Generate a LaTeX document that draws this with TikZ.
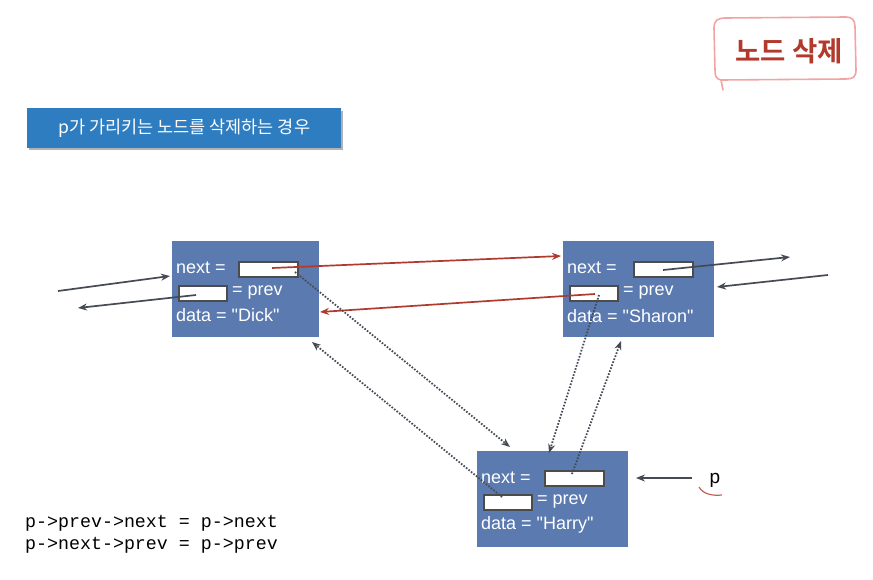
\documentclass[tikz,border=0pt]{standalone}
\usepackage{fontspec}
\setmainfont{Liberation Sans}
\newfontfamily\nodefont{Liberation Sans}[Ligatures=TeXOff]
\newfontfamily\kofont{Noto Sans CJK KR}
\newfontfamily\kofontb{Noto Sans CJK KR}[BoldFont={* Bold}]
\newfontfamily\codefont{Liberation Mono}
\usetikzlibrary{arrows.meta}
\definecolor{nodeblue}{HTML}{5B7AAF}
\definecolor{titleblue}{HTML}{2E7DC0}
\definecolor{darkred}{HTML}{B23A2C}
\definecolor{arrowred}{HTML}{B03A2E}
\definecolor{arrowgray}{HTML}{454A55}
\definecolor{bubblepink}{HTML}{F2A3A3}
\begin{document}
\begin{tikzpicture}[x=1pt,y=-1pt,
  listnode/.style={draw=none,fill=nodeblue,minimum width=147pt,minimum height=96pt,inner sep=0pt,anchor=north west},
  field/.style={draw=black!70,line width=1.8pt,fill=white,minimum width=59pt,minimum height=15pt,inner sep=0pt,anchor=north west},
  pfield/.style={field,minimum width=48pt},
  ntext/.style={text=white,font=\nodefont\fontsize{18}{20}\selectfont,anchor=west,inner sep=0pt},
  redarrow/.style={draw=arrowred,line width=1.7pt,-{Stealth[length=9pt,width=7pt]}},
  grayarrow/.style={draw=arrowgray,line width=1.7pt,-{Stealth[length=9pt,width=7pt]}},
  dotarrow/.style={draw=arrowgray,line width=1.8pt,dash pattern=on 1.6pt off 1.6pt,-{Stealth[length=9pt,width=7pt]}},
]
\useasboundingbox (0,0) rectangle (873,580);
% bubble
\draw[bubblepink,line width=1.6pt,line cap=round,line join=round]
  (723,90) -- (721,80) .. controls (716,79) and (715,76) .. (715,70) -- (714,28)
  .. controls (714,20) and (718,18) .. (726,18) -- (846,17) .. controls (852,17) and (855,20) .. (855,27)
  -- (856,70) .. controls (856,77) and (853,79) .. (846,79) -- (722,80);
\node[text=darkred,font=\kofontb\bfseries\fontsize{27.5}{30}\selectfont] (ttl) at (789,51) {노드 삭제};
% title box
\fill[black!30] (29,111) rectangle (343,150);
\node[fill=titleblue,minimum width=314pt,minimum height=40pt,inner sep=0pt,anchor=north west,text=white,font=\kofont\fontsize{17.5}{20}\selectfont] (hdr) at (27,108) {p가 가리키는 노드를 삭제하는 경우};
% nodes
\node[listnode] (dick) at (172,241) {};
\node[listnode,minimum width=151pt] (sharon) at (563,241) {};
\node[listnode,minimum width=151pt] (harry) at (477,451) {};
% Dick
\node[ntext] (dn) at (176,268) {next =};
\node[field] (dnf) at (238,261) {};
\node[pfield] (dpf) at (178,285) {};
\node[ntext] (dp) at (232,293) {= prev};
\node[ntext] (dd) at (176,315) {data = "Dick"};
% Sharon
\node[ntext] (sn) at (567,268) {next =};
\node[field] (snf) at (633,261) {};
\node[pfield] (spf) at (569,285) {};
\node[ntext] (sp) at (623,293) {= prev};
\node[ntext] (sd) at (567,316) {data = "Sharon"};
% Harry
\node[ntext] (hn) at (481,478) {next =};
\node[field] (hnf) at (544,470) {};
\node[pfield] (hpf) at (483,494) {};
\node[ntext] (hp) at (537,502) {= prev};
\node[ntext] (hd) at (481,525) {data = "Harry"};
% coordinates
\coordinate (lin) at (58,291);
\coordinate (linE) at (170,276);
\coordinate (lout) at (78,308);
\coordinate (dpo) at (196,295);
\coordinate (dno) at (272,268);
\coordinate (sin) at (561,256);
\coordinate (spo) at (595,294);
\coordinate (din) at (320,312);
\coordinate (sno) at (663,270);
\coordinate (rout) at (790,257);
\coordinate (rin) at (828,275);
\coordinate (rinE) at (717,287);
\coordinate (dcorner) at (295,272);
\coordinate (htop1) at (510,447);
\coordinate (hpo) at (502,497);
\coordinate (dbot) at (312,342);
\coordinate (spd) at (599,295);
\coordinate (htop2) at (549,453);
\coordinate (hno) at (572,474);
\coordinate (sbot) at (621,341);
\coordinate (pstart) at (692,478);
\coordinate (pend) at (636,478);
% arrows
\draw[grayarrow] (lin) -- (linE);
\draw[grayarrow] (dpo) -- (lout);
\draw[redarrow] (dno) -- (sin);
\draw[redarrow] (spo) -- (din);
\draw[grayarrow] (sno) -- (rout);
\draw[grayarrow] (rin) -- (rinE);
\draw[dotarrow] (dcorner) -- (htop1);
\draw[dotarrow] (hpo) -- (dbot);
\draw[dotarrow] (spd) -- (htop2);
\draw[dotarrow] (hno) -- (sbot);
\draw[grayarrow] (pstart) -- (pend);
\node[font=\fontsize{19}{21}\selectfont,text=black] (p) at (715,480) {p};
\draw[arrowred!80,line width=1.2pt] (699,487) .. controls (703,494) and (712,496) .. (722,495);
% code
\node[font=\codefont\fontsize{18.3}{20}\selectfont,anchor=west,inner sep=0pt,align=left] (c1) at (25,523) {p->prev->next = p->next};
\node[font=\codefont\fontsize{18.3}{20}\selectfont,anchor=west,inner sep=0pt,align=left] (c2) at (25,545) {p->next->prev = p->prev};
\end{tikzpicture}
\end{document}
